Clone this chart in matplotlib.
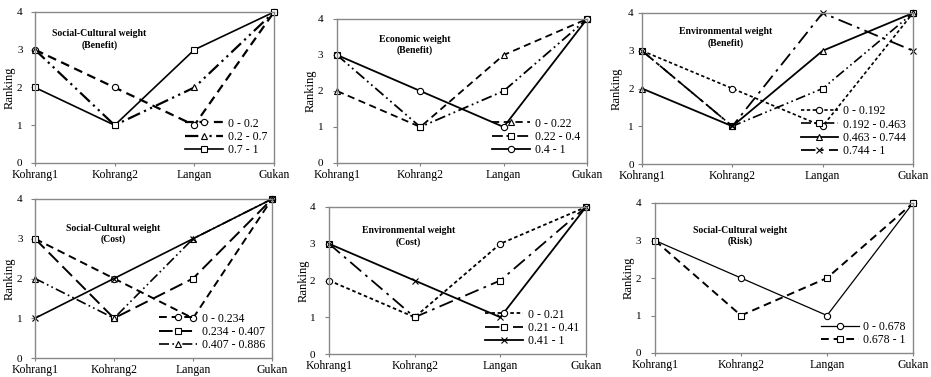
import matplotlib.pyplot as plt

plt.rcParams['font.family'] = ['Liberation Serif', 'DejaVu Serif']

sites = ['Kohrang1', 'Kohrang2', 'Langan', 'Gukan']

# panel 1: Social-Cultural weight (Benefit)
sc_ben_labels = ['0 - 0.2', '0.2 - 0.7', '0.7 - 1']
sc_ben = [[3, 2, 1, 4], [3, 1, 2, 4], [2, 1, 3, 4]]

# panel 2: Economic weight (Benefit)
eco_ben_labels = ['0 - 0.22', '0.22 - 0.4', '0.4 - 1']
eco_ben = [[2, 1, 3, 4], [3, 1, 2, 4], [3, 2, 1, 4]]

# panel 3: Environmental weight (Benefit)
env_ben_labels = ['0 - 0.192', '0.192 - 0.463', '0.463 - 0.744', '0.744 - 1']
env_ben = [[3, 2, 1, 4], [3, 1, 2, 4], [2, 1, 3, 4], [3, 1, 4, 3]]

# panel 4: Social-Cultural weight (Cost)
sc_cost_labels = ['0 - 0.234', '0.234 - 0.407', '0.407 - 0.886', None]
sc_cost = [[3, 2, 1, 4], [3, 1, 2, 4], [2, 1, 3, 4], [1, 2, 3, 4]]

# panel 5: Environmental weight (Cost)
env_cost_labels = ['0 - 0.21', '0.21 - 0.41', '0.41 - 1']
env_cost = [[2, 1, 3, 4], [3, 1, 2, 4], [3, 2, 1, 4]]

# panel 6: Social-Cultural weight (Risk)
sc_risk_labels = ['0 - 0.678', '0.678 - 1']
sc_risk = [[3, 2, 1, 4], [3, 1, 2, 4]]

# estilos de linea
DASH = (0, (4, 2.5))
DOT = (0, (2, 1.5))
LDASH = (0, (7, 3))
DDOT = (0, (6, 2, 1, 2, 1, 2))
DDASH = (0, (8, 3, 1.5, 3))
SOLID = '-'

panels = [
    # rect (px: left, top, right, bottom), title, labels, data, styles, markers, widths,
    # title pos, ylabel x (px), ytick pad
    ((35, 12, 274, 163), 'Social-Cultural weight\n(Benefit)', sc_ben_labels, sc_ben,
     [DASH, DDOT, SOLID], ['o', '^', 's'], [1.6, 1.6, 1.2], (0.27, 0.82), 10, 6),
    ((337, 19, 587, 163), 'Economic weight\n(Benefit)', eco_ben_labels, eco_ben,
     [DASH, DDOT, SOLID], ['^', 's', 'o'], [1.3, 1.3, 1.3], (0.31, 0.82), 311, 7),
    ((642, 13, 913, 164), 'Environmental weight\n(Benefit)', env_ben_labels, env_ben,
     [DOT, DDOT, SOLID, DDASH], ['o', 's', '^', 'x'], [1.2, 1.2, 1.3, 1.3], (0.31, 0.84), 617, 3),
    ((35, 199, 272, 358), 'Social-Cultural weight\n(Cost)', sc_cost_labels, sc_cost,
     [DASH, LDASH, DDOT, SOLID], ['o', 's', '^', 'x'], [1.4, 1.4, 1.2, 1.2], (0.33, 0.78), 10, 6),
    ((329, 207, 586, 354), 'Environmental weight\n(Cost)', env_cost_labels, env_cost,
     [DOT, DDASH, SOLID], ['o', 's', 'x'], [1.3, 1.3, 1.3], (0.31, 0.8), 304, 7),
    ((655, 203, 913, 353), 'Social-Cultural weight\n(Risk)', sc_risk_labels, sc_risk,
     [SOLID, DASH], ['o', 's'], [0.9, 1.4], (0.33, 0.78), 629, 7),
]

W, H = 931, 377
fig = plt.figure(figsize=(W / 100, H / 100), dpi=100)

for rect, title, labels, data, styles, markers, widths, tpos, ylx, ypad in panels:
    l, t, r, b = rect
    ax = fig.add_axes([l / W, 1 - b / H, (r - l) / W, (b - t) / H])
    x = list(range(len(sites)))
    for vals, lab, ls, mk, lw in zip(data, labels, styles, markers, widths):
        ax.plot(x, vals, color='black', linestyle=ls, linewidth=lw, marker=mk,
                markersize=4.5, markerfacecolor='white', markeredgecolor='black',
                markeredgewidth=0.8, label=lab, clip_on=False)
    ax.set_xlim(0, 3)
    ax.set_ylim(0, 4)
    ax.set_xticks(x)
    ax.set_xticklabels(sites, fontsize=8.5)
    ax.set_yticks([0, 1, 2, 3, 4])
    ax.tick_params(axis='y', labelsize=8, length=3, color='gray', pad=ypad)
    ax.tick_params(axis='x', length=2, color='gray', pad=2)
    for s in ax.spines.values():
        s.set_color('#888888')
        s.set_linewidth(1.0)
    # etiqueta del eje y colocada a mano
    fig.text(ylx / W, 1 - (t + b) / 2 / H, 'Ranking', rotation=90, ha='center',
             va='center', fontsize=9)
    ax.text(tpos[0], tpos[1], title, transform=ax.transAxes, ha='center', va='center',
            fontsize=7, fontweight='bold', linespacing=1.3)
    h, lb = ax.get_legend_handles_labels()
    ax.legend(h, lb, loc='lower right', frameon=False, fontsize=8.5, handlelength=3.2,
              labelspacing=0.1, borderaxespad=0.2, handletextpad=0.4)

plt.savefig('out.png', dpi=100)
plt.close()
